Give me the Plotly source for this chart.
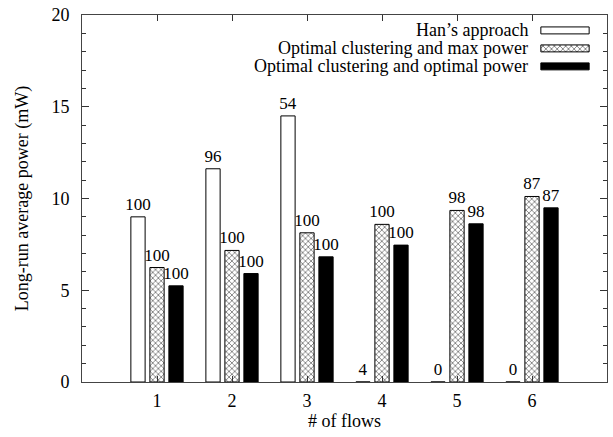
import plotly.graph_objects as go

flows = [1, 2, 3, 4, 5, 6]
series_names = ["Han\u2019s approach", "Optimal clustering and max power", "Optimal clustering and optimal power"]
han = [9.0, 11.62, 14.5, 0, 0, 0]
maxp = [6.24, 7.17, 8.13, 8.59, 9.35, 10.11]
optp = [5.24, 5.91, 6.82, 7.46, 8.62, 9.49]
han_lbl = ["100", "96", "54", "4", "0", "0"]
max_lbl = ["100", "100", "100", "100", "98", "87"]
opt_lbl = ["100", "100", "100", "100", "98", "87"]

FONT = "Liberation Serif"
fig = go.Figure()

styles = [
    dict(marker=dict(color="white", line=dict(color="black", width=1))),
    dict(marker=dict(color="white", line=dict(color="black", width=1),
                     pattern=dict(shape="x", size=4, solidity=0.4, fgcolor="black", bgcolor="white"))),
    dict(marker=dict(color="black", line=dict(color="black", width=1))),
]
for name, vals, lbls, st in zip(series_names, [han, maxp, optp], [han_lbl, max_lbl, opt_lbl], styles):
    fig.add_trace(go.Bar(x=flows, y=vals, name=name, text=lbls, textposition="outside",
                         textfont=dict(family=FONT, size=17, color="black"),
                         constraintext="none", cliponaxis=False, showlegend=False, **st))

# gnuplot-style key: text right-aligned, sample box to its right
key_y = [0.958, 0.909, 0.860]
key_x0, key_x1, key_h = 0.874, 0.966, 0.019
key_fill = ["white", "white", "black"]
for i, name in enumerate(series_names):
    fig.add_annotation(x=0.853, y=key_y[i], xref="paper", yref="paper", text=name,
                       showarrow=False, xanchor="right", yanchor="middle",
                       font=dict(family=FONT, size=18, color="black"))
    y0, y1 = key_y[i] - key_h / 2, key_y[i] + key_h / 2
    kw = {}
    if i == 1:
        kw["fillpattern"] = dict(shape="x", size=4, solidity=0.4, fgcolor="black", bgcolor="white")
    fig.add_trace(go.Scatter(x=[key_x0, key_x1, key_x1, key_x0, key_x0], y=[y0, y0, y1, y1, y0],
                             xaxis="x2", yaxis="y2", mode="lines", fill="toself",
                             fillcolor=key_fill[i], line=dict(color="black", width=1),
                             showlegend=False, hoverinfo="skip", **kw))

fig.update_layout(
    width=613, height=437, margin=dict(l=82, r=6, t=15, b=55),
    plot_bgcolor="white", paper_bgcolor="white",
    barmode="group", bargap=0.24, bargroupgap=0.25,
    font=dict(family=FONT, size=18, color="black"),
    xaxis=dict(range=[0, 7], tickvals=flows, ticktext=[str(f) for f in flows],
               ticks="inside", ticklen=6, tickcolor="#333", mirror="ticks",
               showline=True, linecolor="#444", linewidth=1, showgrid=False, zeroline=False,
               ticklabelstandoff=2,
               title=dict(text="# of flows", standoff=3, font=dict(family=FONT, size=18)),
               tickfont=dict(family=FONT, size=18, color="black")),
    yaxis=dict(range=[0, 20], tickvals=[0, 5, 10, 15, 20], ticks="inside", ticklen=7,
               tickcolor="#333", mirror="ticks", showline=True, linecolor="#444", linewidth=1,
               showgrid=False, zeroline=False, ticklabelstandoff=8,
               minor=dict(dtick=1, ticks="inside", ticklen=4, tickcolor="#333"),
               title=dict(text="Long-run average power (mW)", standoff=18, font=dict(family=FONT, size=18)),
               tickfont=dict(family=FONT, size=18, color="black")),
    xaxis2=dict(range=[0, 1], overlaying="x", visible=False, fixedrange=True),
    yaxis2=dict(range=[0, 1], overlaying="y", visible=False, fixedrange=True),
)
fig.write_html("out.html")
